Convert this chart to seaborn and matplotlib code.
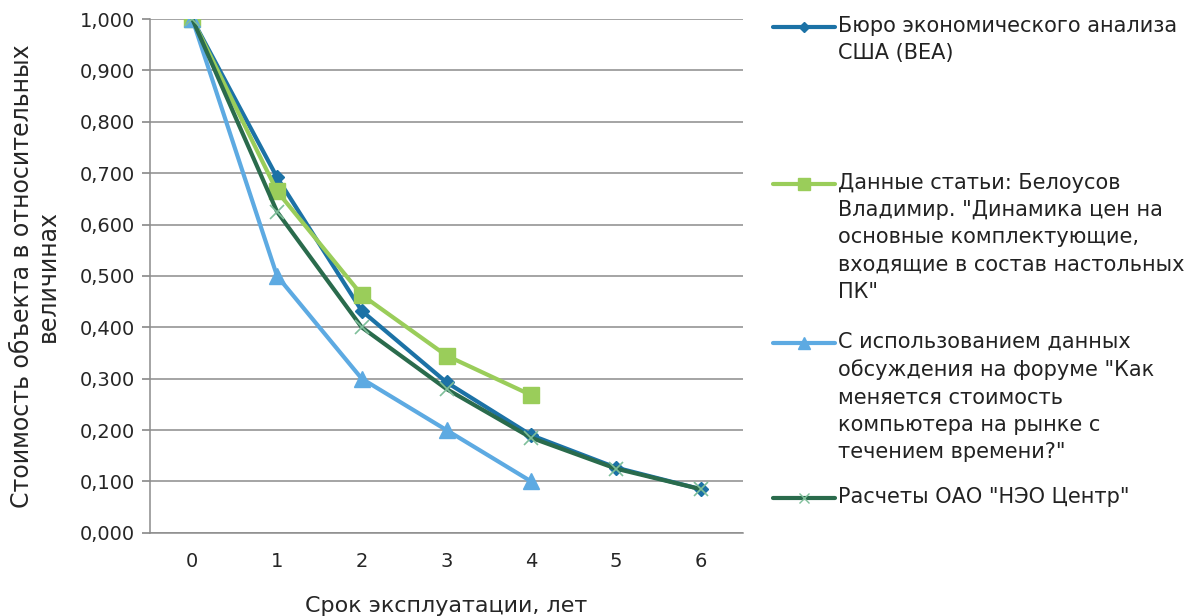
import numpy as np
import pandas as pd
import matplotlib
matplotlib.use("Agg")
import matplotlib.pyplot as plt
from matplotlib.lines import Line2D
from matplotlib.ticker import FuncFormatter, MultipleLocator
import seaborn as sns

# ---- data ----
years = [0, 1, 2, 3, 4, 5, 6]
bea = [1.000, 0.692, 0.432, 0.293, 0.190, 0.127, 0.085]
belousov = [1.000, 0.665, 0.463, 0.345, 0.268]
forum = [1.000, 0.500, 0.300, 0.200, 0.100]
neo = [1.000, 0.625, 0.400, 0.280, 0.185, 0.125, 0.085]

names = [
    'Бюро экономического анализа\nСША (BEA)',
    'Данные статьи: Белоусов\nВладимир. "Динамика цен на\nосновные комплектующие,\nвходящие в состав настольных\nПК"',
    'С использованием данных\nобсуждения на форуме "Как\nменяется стоимость\nкомпьютера на рынке с\nтечением времени?"',
    'Расчеты ОАО "НЭО Центр"',
]
series = [bea, belousov, forum, neo]
colors = ['#1C72A6', '#9ACD5A', '#5DAAE2', '#2A6B4C']
markers = ['D', 's', '^', 'x']
msizes = [7, 12, 12, 10]

rows = []
for nm, vals in zip(names, series):
    for x, v in zip(years, vals):
        rows.append({'year': x, 'value': v, 'series': nm})
df = pd.DataFrame(rows)

sns.set_theme(style="white")
plt.rcParams['font.family'] = ['DejaVu Sans']

fig = plt.figure(figsize=(11.95, 6.16), dpi=100)
ax = fig.add_axes([0.1255, 0.135, 0.4963, 0.834])

for nm, c, m, ms in zip(names, colors, markers, msizes):
    sub = df[df['series'] == nm]
    sns.lineplot(data=sub, x='year', y='value', color=c, marker=m,
                 markersize=ms, linewidth=3, ax=ax, legend=False,
                 markeredgecolor=(c if m != 'x' else '#7FBF9A'),
                 markeredgewidth=(1 if m != 'x' else 1.2))

ax.set_xlim(-0.5, 6.5)
ax.set_ylim(0, 1.0)
ax.yaxis.set_major_locator(MultipleLocator(0.1))
ax.set_xticks(years)
ax.yaxis.set_major_formatter(FuncFormatter(lambda v, p: f"{v:.3f}".replace('.', ',')))
ax.grid(axis='y', color='#8C8C8C', linewidth=1.1)
ax.set_axisbelow(True)
for s in ['top', 'right']:
    ax.spines[s].set_visible(False)
for s in ['left', 'bottom']:
    ax.spines[s].set_color('#8C8C8C')
    ax.spines[s].set_linewidth(1.1)
ax.tick_params(axis='y', length=6, color='#8C8C8C', labelsize=14, pad=5, direction='out', left=True)
ax.tick_params(axis='x', length=0, labelsize=14, pad=14)
ax.set_xlabel('Срок эксплуатации, лет', fontsize=16, labelpad=18)
ax.set_ylabel('Стоимость объекта в относительных\nвеличинах', fontsize=17, labelpad=14,
              linespacing=1.1)

# legend drawn at the right side
W, H = 1195, 616
leg_y = [27, 184, 343, 498]
for nm, c, m, ms, yy in zip(names, colors, markers, msizes, leg_y):
    fy = 1 - yy / H
    fig.add_artist(Line2D([773 / W, 835 / W], [fy, fy], color=c, linewidth=3,
                          transform=fig.transFigure))
    fig.add_artist(Line2D([804 / W], [fy], color=c, marker=m,
                          markersize=ms * 0.7,
                          markeredgecolor=(c if m != 'x' else '#7FBF9A'),
                          transform=fig.transFigure))
    fig.text(838 / W, fy + 11 / H, nm, fontsize=15, va='top', ha='left',
             linespacing=1.45, color='#222222')

fig.savefig('out.png', dpi=100)
